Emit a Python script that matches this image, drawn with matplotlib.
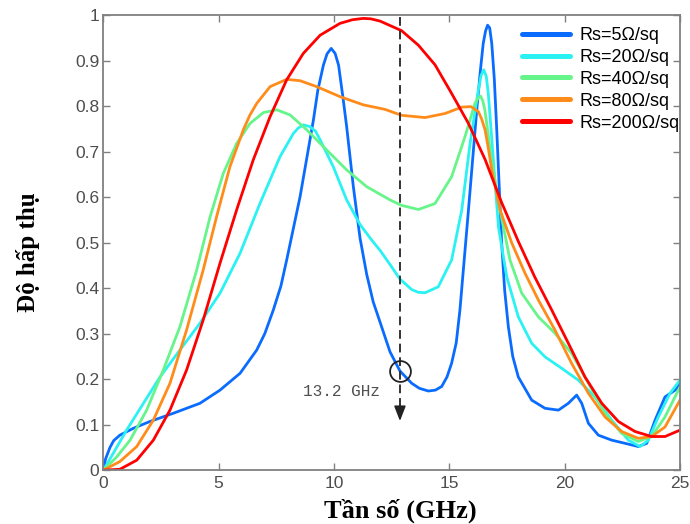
import matplotlib
matplotlib.use("Agg")
import matplotlib.pyplot as plt

# ---------------- data ----------------
f_5 = [0, 0.1, 0.29, 0.45, 0.72, 1.3, 2.02, 3.03, 4.19, 5.06, 5.93, 6.65, 7.0, 7.37, 7.7, 7.95, 8.53,
       9.11, 9.3, 9.54, 9.7, 9.88, 10.05, 10.2, 10.4, 10.55, 10.84, 11.13, 11.42, 11.7, 12.0,
       12.43, 12.86, 13.37, 13.7, 14.09, 14.4, 14.67, 14.9, 15.1, 15.3, 15.46, 15.83, 16.19, 16.35,
       16.47, 16.57, 16.66, 16.75, 16.84, 16.95, 17.05, 17.27, 17.4, 17.56, 17.75, 17.99, 18.57,
       19.15, 19.73, 20.16, 20.52, 20.74, 21.03, 21.46, 22.04, 22.62, 23.19, 23.56, 23.92, 24.35,
       24.79, 25.0]
a_5 = [0, 0.025, 0.05, 0.065, 0.077, 0.092, 0.107, 0.125, 0.147, 0.176, 0.213, 0.264, 0.3, 0.352,
       0.405, 0.462, 0.601, 0.77, 0.835, 0.89, 0.915, 0.927, 0.916, 0.89, 0.815, 0.755, 0.623, 0.51,
       0.43, 0.37, 0.325, 0.26, 0.218, 0.191, 0.18, 0.174, 0.176, 0.184, 0.205, 0.235, 0.28,
       0.352, 0.572, 0.792, 0.88, 0.938, 0.965, 0.978, 0.972, 0.938, 0.86, 0.755, 0.499, 0.395,
       0.315, 0.25, 0.205, 0.154, 0.136, 0.132, 0.147, 0.165, 0.147, 0.103, 0.077, 0.066, 0.059,
       0.052, 0.059, 0.110, 0.161, 0.176, 0.19]

f_20 = [0, 0.43, 1.01, 1.74, 2.46, 3.32, 4.19, 5.06, 5.93, 6.79, 7.66, 8.24, 8.45, 8.67, 8.96, 9.2,
        9.4, 9.97, 10.55, 11.13, 11.6, 12.0, 12.43, 12.86, 13.37, 13.65, 13.95, 14.52, 15.1, 15.54,
        15.9, 16.26, 16.38, 16.49, 16.6, 16.69, 16.91, 17.13, 17.49, 17.99, 18.57, 19.15, 19.87,
        20.59, 21.31, 22.04, 22.76, 23.27, 23.63, 24.06, 24.57, 25.0]
a_20 = [0, 0.037, 0.088, 0.147, 0.205, 0.264, 0.323, 0.389, 0.477, 0.586, 0.689, 0.74, 0.752, 0.759,
        0.755, 0.745, 0.726, 0.667, 0.594, 0.54, 0.508, 0.483, 0.452, 0.42, 0.397, 0.391, 0.39,
        0.403, 0.462, 0.572, 0.718, 0.836, 0.868, 0.88, 0.866, 0.828, 0.682, 0.535, 0.425, 0.337,
        0.279, 0.249, 0.224, 0.198, 0.161, 0.110, 0.066, 0.052, 0.066, 0.117, 0.169, 0.198]

f_40 = [0, 0.58, 1.16, 1.88, 2.6, 3.32, 4.05, 4.63, 5.2, 5.78, 6.36, 6.94, 7.52, 8.09, 8.82, 9.68,
        10.55, 11.42, 12.43, 12.93, 13.66, 14.38, 15.1, 15.68, 16.11, 16.25, 16.36, 16.45, 16.54,
        16.68, 16.83, 17.2, 17.63, 18.14, 18.86, 19.58, 20.3, 21.03, 21.75, 22.47, 23.19, 23.77,
        24.35, 25.0]
a_40 = [0, 0.029, 0.066, 0.132, 0.22, 0.315, 0.44, 0.557, 0.652, 0.718, 0.762, 0.786, 0.792, 0.781,
        0.748, 0.704, 0.66, 0.623, 0.594, 0.582, 0.573, 0.586, 0.645, 0.733, 0.806, 0.818, 0.822,
        0.812, 0.792, 0.74, 0.682, 0.572, 0.462, 0.389, 0.337, 0.301, 0.257, 0.191, 0.125, 0.081,
        0.063, 0.074, 0.117, 0.183]

f_80 = [0, 0.72, 1.45, 2.17, 2.89, 3.61, 4.33, 4.91, 5.49, 6.07, 6.35, 6.65, 7.23, 7.95, 8.53, 9.25,
        10.26, 11.27, 12.21, 12.93, 13.95, 14.82, 15.54, 15.94, 16.26, 16.4, 16.55, 16.7, 16.84,
        17.2, 17.71, 18.28, 18.86, 19.58, 20.3, 21.03, 21.75, 22.47, 23.19, 23.77, 24.35, 25.0]
a_80 = [0, 0.019, 0.052, 0.11, 0.191, 0.308, 0.44, 0.557, 0.667, 0.748, 0.78, 0.806, 0.843, 0.859,
        0.856, 0.843, 0.821, 0.803, 0.793, 0.78, 0.775, 0.784, 0.798, 0.799, 0.788, 0.772, 0.748,
        0.705, 0.66, 0.572, 0.499, 0.433, 0.374, 0.308, 0.235, 0.169, 0.117, 0.085, 0.07, 0.074,
        0.095, 0.154]

f_200 = [0, 0.72, 1.45, 2.17, 2.89, 3.61, 4.33, 5.06, 5.78, 6.5, 7.23, 7.95, 8.67, 9.4, 10.26, 10.8,
         11.27, 11.6, 12.0, 12.93, 13.66, 14.38, 15.1, 15.83, 16.55, 17.27, 17.99, 18.7, 19.44,
         20.16, 20.88, 21.61, 22.33, 23.05, 23.77, 24.35, 25.0]
a_200 = [0, 0.002, 0.022, 0.066, 0.132, 0.22, 0.33, 0.455, 0.572, 0.682, 0.777, 0.858, 0.916, 0.956,
         0.982, 0.99, 0.993, 0.992, 0.987, 0.966, 0.934, 0.891, 0.828, 0.762, 0.683, 0.588, 0.503,
         0.425, 0.352, 0.279, 0.205, 0.147, 0.107, 0.085, 0.074, 0.074, 0.088]

labels = ["Rs=5Ω/sq", "Rs=20Ω/sq", "Rs=40Ω/sq", "Rs=80Ω/sq", "Rs=200Ω/sq"]
colors = ["#0a6cff", "#2af2f2", "#66f58a", "#ff8c1a", "#ff0000"]

x_ticks = [0, 5, 10, 15, 20, 25]
y_ticks = [0, 0.1, 0.2, 0.3, 0.4, 0.5, 0.6, 0.7, 0.8, 0.9, 1.0]
y_tick_labels = ["0", "0.1", "0.2", "0.3", "0.4", "0.5", "0.6", "0.7", "0.8", "0.9", "1"]

marker_f = 12.86
marker_a = 0.218
marker_text = "13.2 GHz"

# ---------------- figure ----------------
fig = plt.figure(figsize=(6.9, 5.24), dpi=100)
ax = fig.add_axes([0.1497, 0.1027, 0.8358, 0.8683])

series = [(f_5, a_5), (f_20, a_20), (f_40, a_40), (f_80, a_80), (f_200, a_200)]
for (fx, ay), lab, col in zip(series, labels, colors):
    ax.plot(fx, ay, color=col, lw=2.0, label=lab, solid_joinstyle="round", solid_capstyle="round")

# dashed arrow and marker
ax.plot([marker_f, marker_f], [0.997, 0.13], color="#333333", lw=1.4, dashes=(4.5, 2.5))
ax.annotate("", xy=(marker_f, 0.108), xytext=(marker_f, 0.14),
            arrowprops=dict(arrowstyle="-|>,head_length=0.9,head_width=0.35",
                            color="#222222", lw=1.2, shrinkA=0, shrinkB=0))
ax.plot([marker_f], [marker_a], marker="o", ms=15, mfc="none", mec="#222222", mew=1.3)
ax.text(8.66, 0.172, marker_text, fontsize=11.5, family="Liberation Mono",
        color="#505050", ha="left", va="center")

ax.set_xlim(0, 25)
ax.set_ylim(0, 1)
ax.set_xticks(x_ticks)
ax.set_yticks(y_ticks)
ax.set_yticklabels(y_tick_labels)
ax.tick_params(direction="in", top=True, right=True, length=5, width=1.0,
               color="#808080", labelcolor="#4d4d4d", labelsize=12.5)
ax.tick_params(axis="x", pad=4.5)
ax.tick_params(axis="y", pad=3)
for lab in ax.get_xticklabels() + ax.get_yticklabels():
    lab.set_family("Liberation Sans")
for sp in ax.spines.values():
    sp.set_color("#808080")
    sp.set_linewidth(1.3)

leg = ax.legend(loc="upper left", bbox_to_anchor=(0.726, 0.974), frameon=False,
                borderpad=0, borderaxespad=0, handlelength=2.66, handletextpad=0.55,
                labelspacing=0.27, prop={"family": "Liberation Sans", "size": 13})
for ln in leg.get_lines():
    ln.set_linewidth(3.6)

fig.text(0.58, 0.0124, "Tần số (GHz)", family="Liberation Serif", weight="bold",
         fontsize=19, ha="center", va="baseline")
fig.text(0.041, 0.519, "Độ hấp thụ", family="Liberation Serif", weight="bold",
         fontsize=18, ha="center", va="center", rotation=90)

fig.savefig("out.png", dpi=100)
